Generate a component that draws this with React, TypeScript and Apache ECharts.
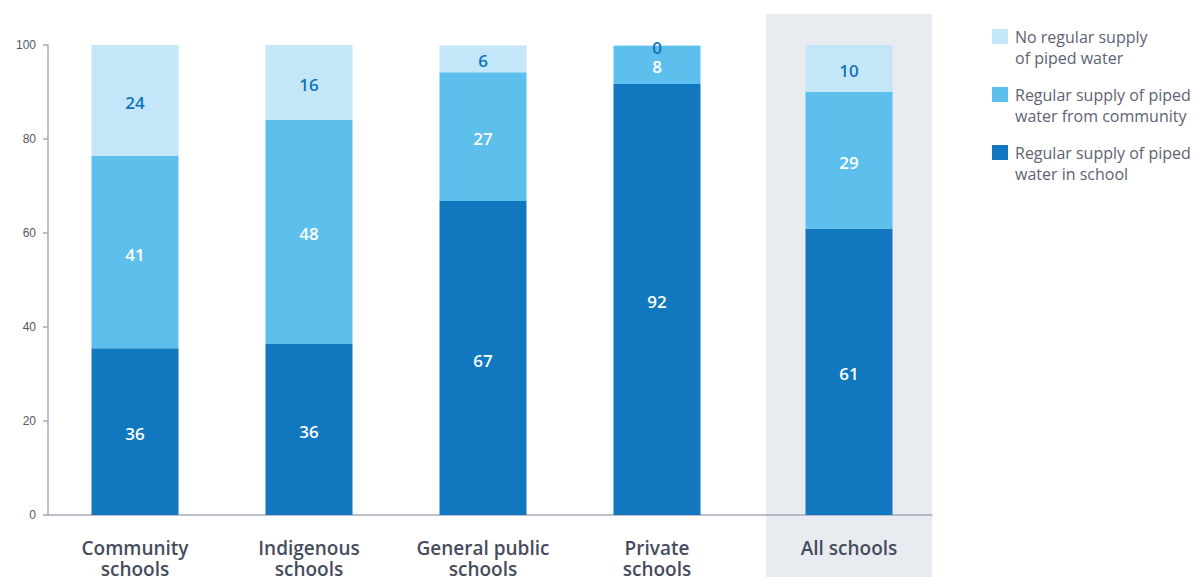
import React, { useEffect, useRef } from "react";
import * as echarts from "echarts";

const categories = ["Community\nschools", "Indigenous\nschools", "General public\nschools", "Private\nschools", "All schools"];
const seriesNames = [
  "No regular supply\nof piped water",
  "Regular supply of piped\nwater from community",
  "Regular supply of piped\nwater in school",
];
const inSchool = [35.5, 36.4, 66.8, 91.7, 60.9];
const fromCommunity = [40.9, 47.7, 27.4, 8.1, 29.1];
const noSupply = [23.6, 16.0, 5.7, 0.2, 10.0];
const yTicks = { min: 0, max: 100, interval: 20 };

const COLORS = { dark: "#1177bf", mid: "#5cbfec", light: "#c3e7f9" };
const FONT = "Open Sans";
const AXIS = "#a6a9bd";

export default function App() {
  const ref = useRef<HTMLDivElement>(null);
  useEffect(() => {
    document.body.style.margin = "0";
    const chart = echarts.init(ref.current!, null, { renderer: "svg" });
    const grids = [
      { left: 48, width: 696, top: 45, height: 470, outerBoundsMode: "none", containLabel: false },
      { left: 766, width: 166, top: 45, height: 470, outerBoundsMode: "none", containLabel: false },
    ];
    const mkX = (gi: number, data: string[]) => ({
      type: "category",
      gridIndex: gi,
      data,
      axisLine: { show: true, lineStyle: { color: AXIS, width: 1.5 } },
      axisTick: { show: false },
      axisLabel: {
        interval: 0,
        margin: 22,
        fontFamily: FONT,
        fontSize: 19,
        fontWeight: 600,
        color: "#464c5c",
        lineHeight: 21,
      },
    });
    const mkY = (gi: number, show: boolean) => ({
      type: "value",
      gridIndex: gi,
      min: yTicks.min,
      max: yTicks.max,
      interval: yTicks.interval,
      show,
      splitLine: { show: false },
      axisLine: { show: true, lineStyle: { color: AXIS, width: 1.5 } },
      axisTick: { show: true, length: 5, lineStyle: { color: AXIS, width: 1.5 } },
      axisLabel: { margin: 12, fontFamily: "Liberation Sans", fontSize: 12, color: "#555a66" },
    });
    const fmt = (p: any) => String(Math.round(p.value));
    const mkSeries = (gi: number, slice: [number, number]) => [
      { name: seriesNames[2], data: inSchool.slice(...slice), color: COLORS.dark, labelColor: "#ffffff" },
      { name: seriesNames[1], data: fromCommunity.slice(...slice), color: COLORS.mid, labelColor: "#ffffff" },
      { name: seriesNames[0], data: noSupply.slice(...slice), color: COLORS.light, labelColor: "#1173ba" },
    ].map((s) => ({
      type: "bar",
      name: s.name,
      stack: "s" + gi,
      xAxisIndex: gi,
      yAxisIndex: gi,
      barWidth: 87,
      data: s.data,
      itemStyle: { color: s.color },
      label: {
        show: true,
        position: "inside",
        offset: [0, 2],
        formatter: fmt,
        fontFamily: FONT,
        fontSize: 17,
        fontWeight: 600,
        color: s.labelColor,
      },
      z: 2,
    }));

    chart.setOption({
      animation: false,
      grid: grids,
      xAxis: [mkX(0, categories.slice(0, 4)), mkX(1, categories.slice(4))],
      yAxis: [mkY(0, true), mkY(1, false)],
      legend: {
        orient: "vertical",
        left: 987,
        top: 0,
        itemWidth: 16,
        itemHeight: 15,
        itemGap: -5,
        icon: "rect",
        formatter: (name: string) => "\n" + name,
        data: [
          { name: seriesNames[0], itemStyle: { color: COLORS.light } },
          { name: seriesNames[1], itemStyle: { color: COLORS.mid } },
          { name: seriesNames[2], itemStyle: { color: COLORS.dark } },
        ],
        textStyle: {
          fontFamily: FONT,
          fontSize: 16,
          color: "#5d6373",
          lineHeight: 21,
          padding: [0, 0, 0, 2],
        },
      },
      graphic: [
        {
          type: "rect",
          z: -1,
          shape: { x: 766, y: 14, width: 166, height: 563 },
          style: { fill: "#e8ebf0" },
          silent: true,
        },
        {
          type: "line",
          z: 1,
          shape: { x1: 744, y1: 515, x2: 766, y2: 515 },
          style: { stroke: AXIS, lineWidth: 1.5 },
          silent: true,
        },
      ],
      series: [...mkSeries(0, [0, 4]), ...mkSeries(1, [4, 5])],
    });
    return () => chart.dispose();
  }, []);
  return <div ref={ref} style={{ width: 1194, height: 577 }} />;
}
